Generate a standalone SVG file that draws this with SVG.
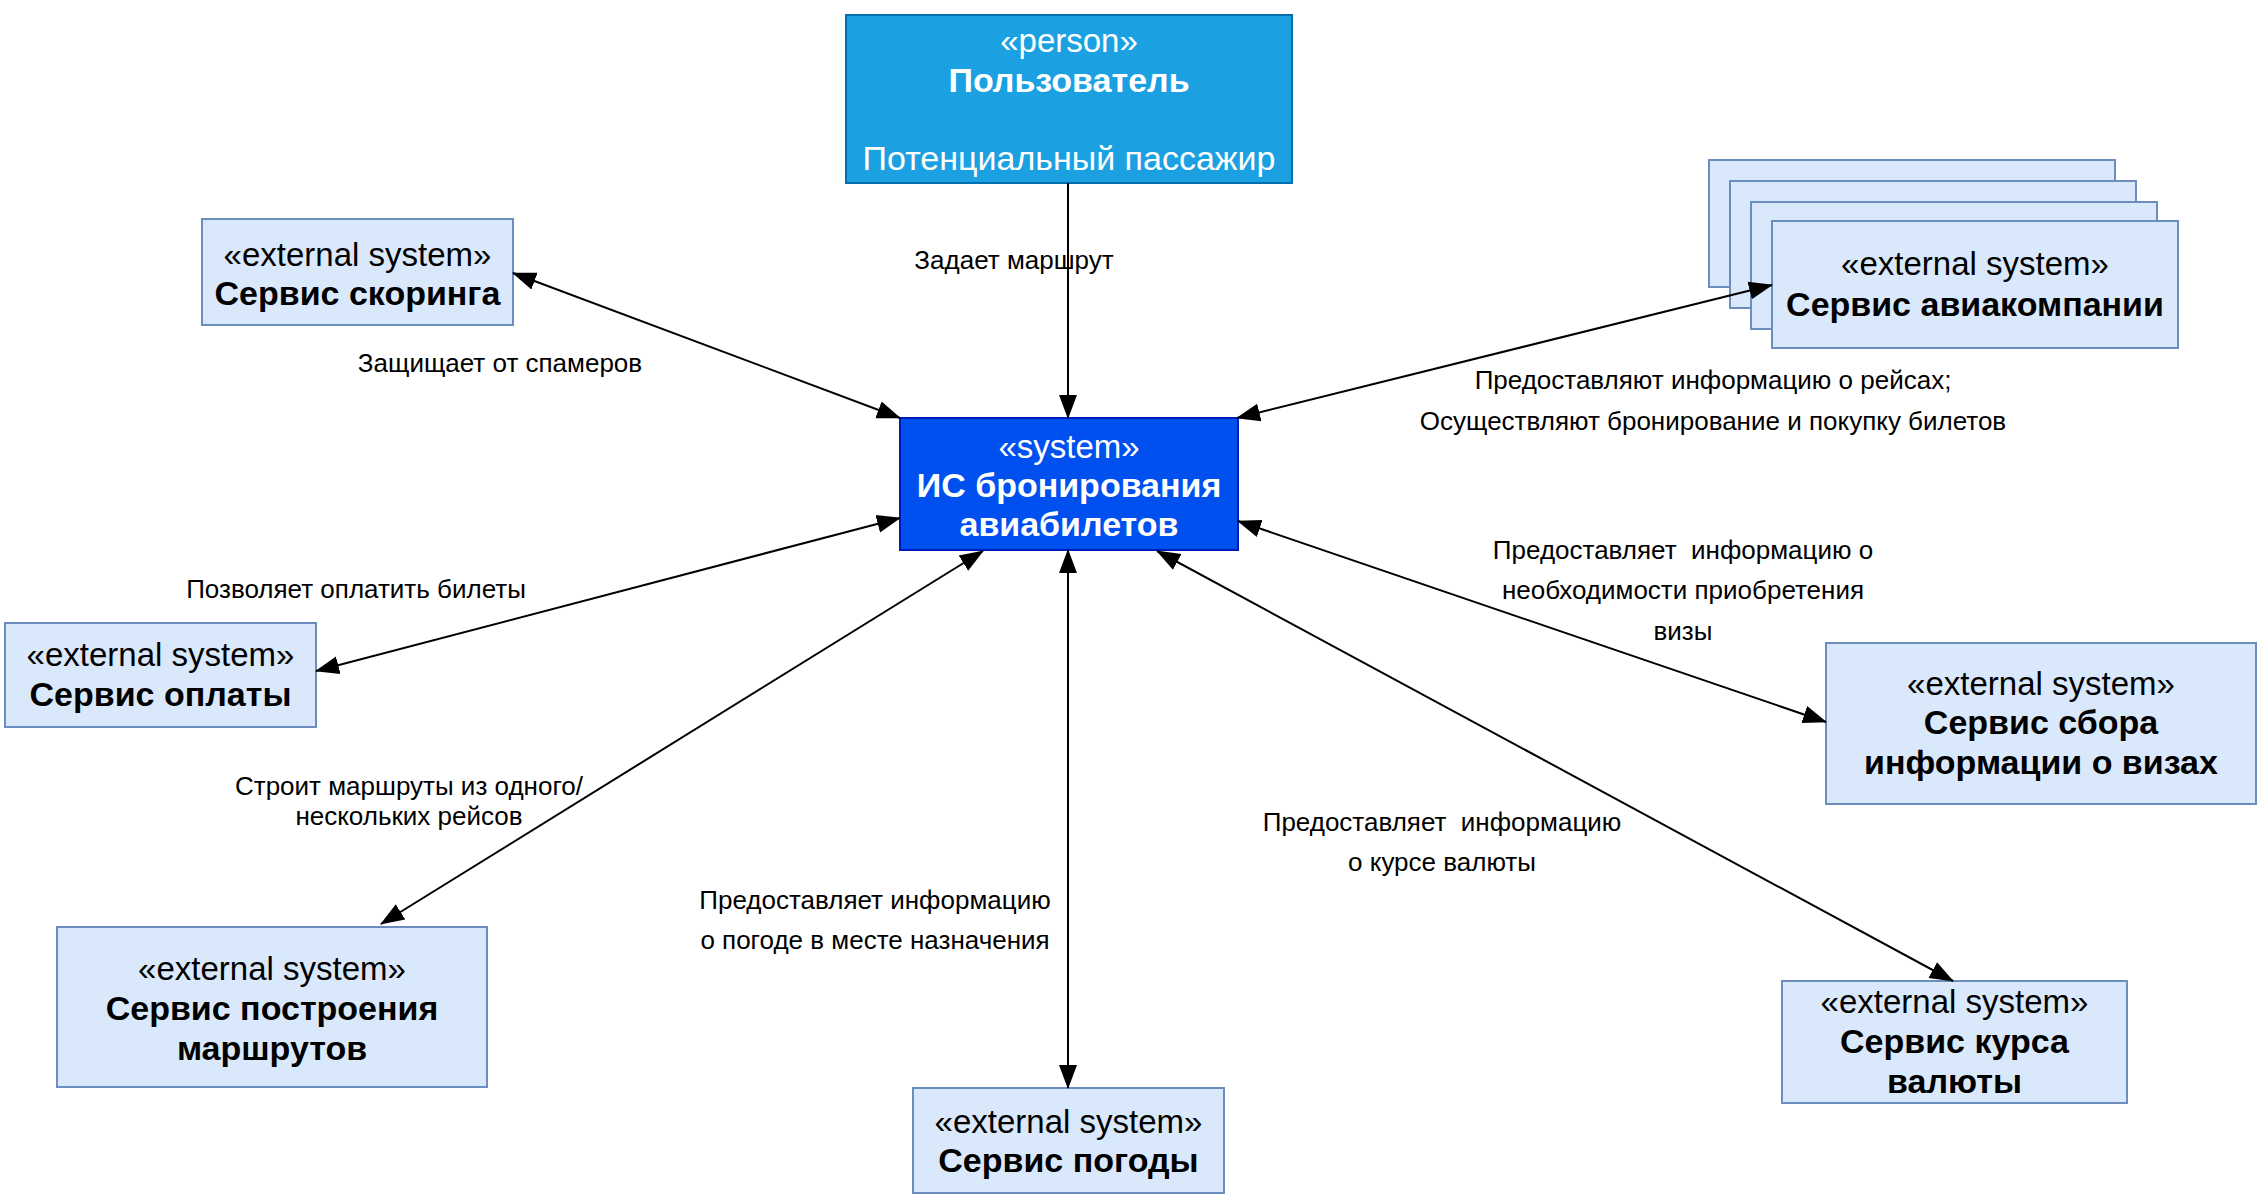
<svg xmlns="http://www.w3.org/2000/svg" width="2268" height="1203" viewBox="0 0 2268 1203">
<style>
text{font-family:"Liberation Sans",Arial,Helvetica,sans-serif;text-anchor:middle}
.st{font-size:33px}
.ds{font-size:34px}
.nm{font-size:34px;font-weight:bold}
.w{fill:#ffffff}
.k{fill:#000000}
.lbl{font-size:26px;fill:#000000}
.ext{fill:#dae8fc;stroke:#6c8ebf;stroke-width:2}
.edge{stroke:#000000;stroke-width:2;fill:none}
</style>
<defs>
<marker id="ah" viewBox="0 0 24 20" refX="23" refY="10" markerWidth="24" markerHeight="20" markerUnits="userSpaceOnUse" orient="auto-start-reverse">
<path d="M0,1 L24,10 L0,19 Z" fill="#000000"/>
</marker>
</defs>
<rect width="2268" height="1203" fill="#ffffff"/>
<g id="person">
<rect x="846" y="15" width="446" height="168" fill="#1ba1e2" stroke="#006eaf" stroke-width="2"/>
<text class="st w" x="1069" y="52">«person»</text>
<text class="nm w" x="1069" y="92">Пользователь</text>
<text class="ds w" x="1069" y="170">Потенциальный пассажир</text>
</g>
<g id="system">
<rect x="900" y="418" width="338" height="132" fill="#0050ef" stroke="#001dbc" stroke-width="2"/>
<text class="st w" x="1069" y="458">«system»</text>
<text class="nm w" x="1069" y="497">ИС бронирования</text>
<text class="nm w" x="1069" y="536">авиабилетов</text>
</g>
<g id="scoring">
<rect class="ext" x="202" y="219" width="311" height="106"/>
<text class="st k" x="357.5" y="266">«external system»</text>
<text class="nm k" x="357.5" y="305">Сервис скоринга</text>
</g>
<g id="airline">
<rect class="ext" x="1709" y="160" width="406" height="127"/>
<rect class="ext" x="1730" y="181" width="406" height="127"/>
<rect class="ext" x="1751" y="202" width="406" height="127"/>
<rect class="ext" x="1772" y="221" width="406" height="127"/>
<text class="st k" x="1975" y="275">«external system»</text>
<text class="nm k" x="1975" y="316">Сервис авиакомпании</text>
</g>
<g id="payment">
<rect class="ext" x="5" y="623" width="311" height="104"/>
<text class="st k" x="160.5" y="666">«external system»</text>
<text class="nm k" x="160.5" y="706">Сервис оплаты</text>
</g>
<g id="visa">
<rect class="ext" x="1826" y="643" width="430" height="161"/>
<text class="st k" x="2041" y="695">«external system»</text>
<text class="nm k" x="2041" y="734">Сервис сбора</text>
<text class="nm k" x="2041" y="774">информации о визах</text>
</g>
<g id="routes">
<rect class="ext" x="57" y="927" width="430" height="160"/>
<text class="st k" x="272" y="980">«external system»</text>
<text class="nm k" x="272" y="1020">Сервис построения</text>
<text class="nm k" x="272" y="1060">маршрутов</text>
</g>
<g id="weather">
<rect class="ext" x="913" y="1088" width="311" height="105"/>
<text class="st k" x="1068.5" y="1133">«external system»</text>
<text class="nm k" x="1068.5" y="1172">Сервис погоды</text>
</g>
<g id="currency">
<rect class="ext" x="1782" y="981" width="345" height="122"/>
<text class="st k" x="1954.5" y="1013">«external system»</text>
<text class="nm k" x="1954.5" y="1053">Сервис курса</text>
<text class="nm k" x="1954.5" y="1093">валюты</text>
</g>
<g id="connectors">
<line class="edge" x1="1068" y1="183" x2="1068" y2="418" marker-end="url(#ah)"/>
<line class="edge" x1="513" y1="273" x2="900" y2="418" marker-start="url(#ah)" marker-end="url(#ah)"/>
<line class="edge" x1="1772" y1="285" x2="1237" y2="418" marker-start="url(#ah)" marker-end="url(#ah)"/>
<line class="edge" x1="316" y1="671" x2="900" y2="518" marker-start="url(#ah)" marker-end="url(#ah)"/>
<line class="edge" x1="381" y1="924" x2="983" y2="551" marker-start="url(#ah)" marker-end="url(#ah)"/>
<line class="edge" x1="1068" y1="550" x2="1068" y2="1088" marker-start="url(#ah)" marker-end="url(#ah)"/>
<line class="edge" x1="1238" y1="521" x2="1826" y2="722" marker-start="url(#ah)" marker-end="url(#ah)"/>
<line class="edge" x1="1157" y1="551" x2="1953" y2="981" marker-start="url(#ah)" marker-end="url(#ah)"/>
<text class="lbl" x="1014" y="269">Задает маршрут</text>
<text class="lbl" x="500" y="372">Защищает от спамеров</text>
<text class="lbl" x="1713" y="389">Предоставляют информацию о рейсах;</text>
<text class="lbl" x="1713" y="430">Осуществляют бронирование и покупку билетов</text>
<text class="lbl" x="356" y="598">Позволяет оплатить билеты</text>
<text class="lbl" x="409" y="795">Строит маршруты из одного/</text>
<text class="lbl" x="409" y="825">нескольких рейсов</text>
<text class="lbl" x="875" y="909">Предоставляет информацию</text>
<text class="lbl" x="875" y="949">о погоде в месте назначения</text>
<text class="lbl" x="1683" y="559" xml:space="preserve">Предоставляет  информацию о</text>
<text class="lbl" x="1683" y="599">необходимости приобретения</text>
<text class="lbl" x="1683" y="640">визы</text>
<text class="lbl" x="1442" y="831" xml:space="preserve">Предоставляет  информацию</text>
<text class="lbl" x="1442" y="871">о курсе валюты</text>
</g>
</svg>
